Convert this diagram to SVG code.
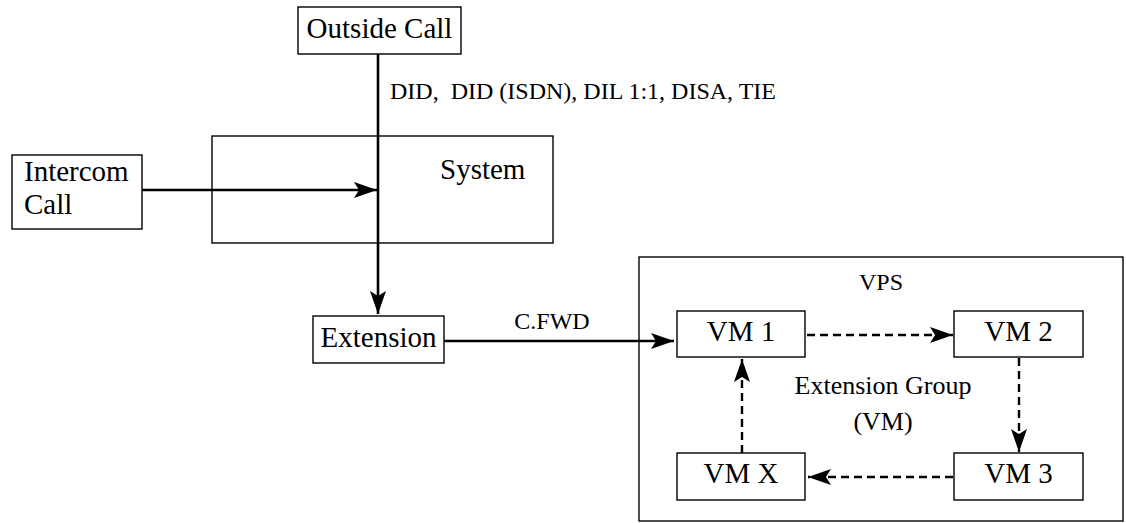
<svg xmlns="http://www.w3.org/2000/svg" width="1126" height="523" viewBox="0 0 1126 523">
<style>
.box{fill:#fff;stroke:#000;stroke-width:1.4}
.frame{fill:none;stroke:#000;stroke-width:1.4}
.t{font-family:"Liberation Serif","Times New Roman",serif;fill:#000}
.n{font-size:29px}
.s{font-size:24px}
.g{font-size:26px}
.c{stroke:#000;stroke-width:2.6;fill:none}
.d{stroke:#000;stroke-width:2.4;fill:none;stroke-dasharray:8 5}
.pre{white-space:pre}
</style>
<defs>
<marker id="ah" markerUnits="userSpaceOnUse" markerWidth="26" markerHeight="20" viewBox="-24 -10 26 20" refX="0" refY="0" orient="auto">
<path d="M0,0 L-23,-8 L-18,0 L-23,8 Z" fill="#000"/>
</marker>
</defs>
<g id="system">
<rect class="frame" x="212" y="136" width="341" height="107"/>
<text class="t n" x="440" y="179">System</text>
</g>
<g id="vps">
<rect class="frame" x="639" y="257" width="484" height="264"/>
<text class="t s" x="881" y="290" text-anchor="middle">VPS</text>
<text class="t g" x="883" y="394" text-anchor="middle">Extension Group</text>
<text class="t g" x="883" y="430" text-anchor="middle">(VM)</text>
</g>
<g id="connectors">
<line class="c" x1="378" y1="54" x2="378" y2="314" marker-end="url(#ah)"/>
<line class="c" x1="142" y1="190" x2="377" y2="190" marker-end="url(#ah)"/>
<line class="c" x1="444" y1="341" x2="674" y2="341" marker-end="url(#ah)"/>
<line class="d" x1="807" y1="335" x2="953" y2="335" marker-end="url(#ah)"/>
<line class="d" x1="1019" y1="358" x2="1019" y2="452" marker-end="url(#ah)"/>
<line class="d" x1="953" y1="477" x2="808" y2="477" marker-end="url(#ah)"/>
<line class="d" x1="742" y1="453" x2="742" y2="359" marker-end="url(#ah)"/>
<text class="t s pre" x="390" y="99" xml:space="preserve">DID,  DID (ISDN), DIL 1:1, DISA, TIE</text>
<text class="t s" x="552" y="329" text-anchor="middle">C.FWD</text>
</g>
<g id="outside-call">
<rect class="box" x="298" y="7" width="163" height="47"/>
<text class="t n" x="379.5" y="38" text-anchor="middle">Outside Call</text>
</g>
<g id="intercom-call">
<rect class="box" x="12" y="155" width="130" height="74"/>
<text class="t n" x="24" y="181">Intercom</text>
<text class="t n" x="24" y="214">Call</text>
</g>
<g id="extension">
<rect class="box" x="313" y="316" width="131" height="47"/>
<text class="t n" x="378.5" y="347" text-anchor="middle">Extension</text>
</g>
<g id="vm1">
<rect class="box" x="677" y="311" width="128" height="46"/>
<text class="t n" x="741" y="341" text-anchor="middle">VM 1</text>
</g>
<g id="vm2">
<rect class="box" x="954" y="311" width="129" height="46"/>
<text class="t n" x="1018.5" y="341" text-anchor="middle">VM 2</text>
</g>
<g id="vm3">
<rect class="box" x="954" y="453" width="129" height="47"/>
<text class="t n" x="1018.5" y="483" text-anchor="middle">VM 3</text>
</g>
<g id="vmx">
<rect class="box" x="677" y="453" width="128" height="47"/>
<text class="t n" x="741" y="483" text-anchor="middle">VM X</text>
</g>
</svg>
